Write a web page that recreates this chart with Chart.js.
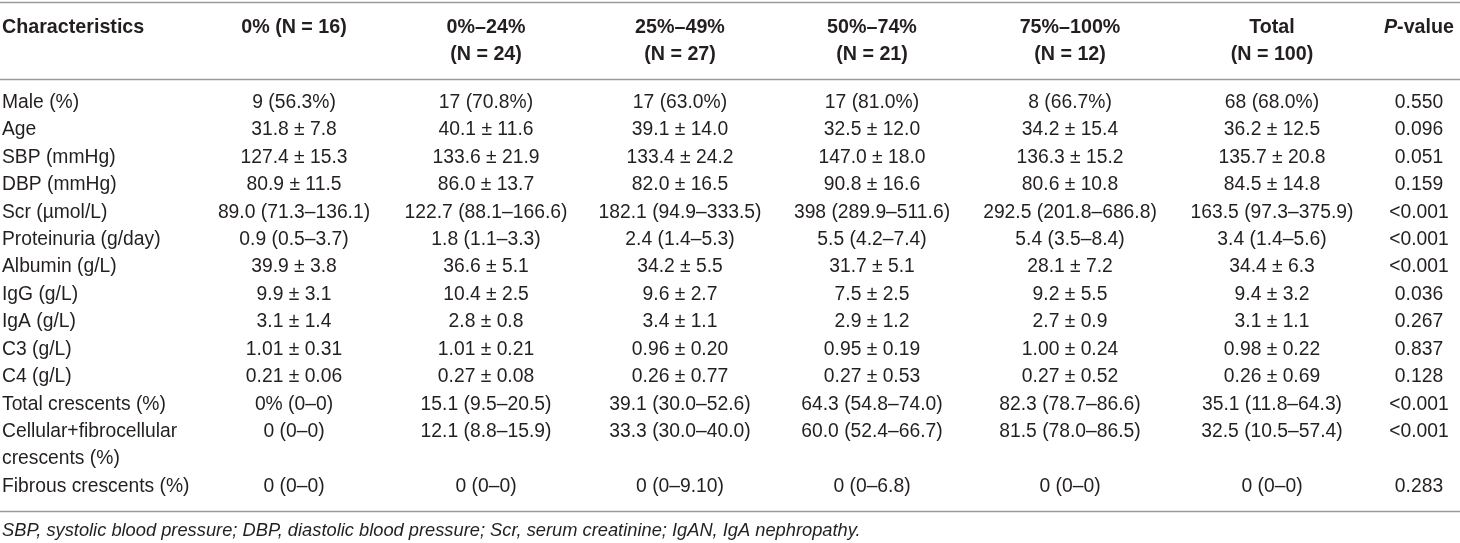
<!DOCTYPE html>
<html>
<head>
<meta charset="utf-8">
<script src="https://cdn.jsdelivr.net/npm/chart.js@4.4.1/dist/chart.umd.min.js"></script>
<style>
  html, body { margin: 0; padding: 0; background: #fff; }
  #wrap { position: relative; width: 1460px; height: 543px; }
</style>
</head>
<body>
<div id="wrap"><canvas id="tbl"></canvas></div>
<script>
// ── Table content ─────────────────────────────────────────────
const HEADERS = ['Characteristics', '0% (N = 16)', '0%–24%\n(N = 24)', '25%–49%\n(N = 27)',
                 '50%–74%\n(N = 21)', '75%–100%\n(N = 12)', 'Total\n(N = 100)', 'P-value'];

const ROW_LABELS = ['Male (%)', 'Age', 'SBP (mmHg)', 'DBP (mmHg)', 'Scr (µmol/L)', 'Proteinuria (g/day)',
                    'Albumin (g/L)', 'IgG (g/L)', 'IgA (g/L)', 'C3 (g/L)', 'C4 (g/L)', 'Total crescents (%)',
                    'Cellular+fibrocellular\ncrescents (%)', 'Fibrous crescents (%)'];

const GROUP_0   = ['9 (56.3%)', '31.8 ± 7.8', '127.4 ± 15.3', '80.9 ± 11.5', '89.0 (71.3–136.1)', '0.9 (0.5–3.7)',
                   '39.9 ± 3.8', '9.9 ± 3.1', '3.1 ± 1.4', '1.01 ± 0.31', '0.21 ± 0.06', '0% (0–0)', '0 (0–0)', '0 (0–0)'];
const GROUP_1   = ['17 (70.8%)', '40.1 ± 11.6', '133.6 ± 21.9', '86.0 ± 13.7', '122.7 (88.1–166.6)', '1.8 (1.1–3.3)',
                   '36.6 ± 5.1', '10.4 ± 2.5', '2.8 ± 0.8', '1.01 ± 0.21', '0.27 ± 0.08', '15.1 (9.5–20.5)', '12.1 (8.8–15.9)', '0 (0–0)'];
const GROUP_25  = ['17 (63.0%)', '39.1 ± 14.0', '133.4 ± 24.2', '82.0 ± 16.5', '182.1 (94.9–333.5)', '2.4 (1.4–5.3)',
                   '34.2 ± 5.5', '9.6 ± 2.7', '3.4 ± 1.1', '0.96 ± 0.20', '0.26 ± 0.77', '39.1 (30.0–52.6)', '33.3 (30.0–40.0)', '0 (0–9.10)'];
const GROUP_50  = ['17 (81.0%)', '32.5 ± 12.0', '147.0 ± 18.0', '90.8 ± 16.6', '398 (289.9–511.6)', '5.5 (4.2–7.4)',
                   '31.7 ± 5.1', '7.5 ± 2.5', '2.9 ± 1.2', '0.95 ± 0.19', '0.27 ± 0.53', '64.3 (54.8–74.0)', '60.0 (52.4–66.7)', '0 (0–6.8)'];
const GROUP_75  = ['8 (66.7%)', '34.2 ± 15.4', '136.3 ± 15.2', '80.6 ± 10.8', '292.5 (201.8–686.8)', '5.4 (3.5–8.4)',
                   '28.1 ± 7.2', '9.2 ± 5.5', '2.7 ± 0.9', '1.00 ± 0.24', '0.27 ± 0.52', '82.3 (78.7–86.6)', '81.5 (78.0–86.5)', '0 (0–0)'];
const TOTAL     = ['68 (68.0%)', '36.2 ± 12.5', '135.7 ± 20.8', '84.5 ± 14.8', '163.5 (97.3–375.9)', '3.4 (1.4–5.6)',
                   '34.4 ± 6.3', '9.4 ± 3.2', '3.1 ± 1.1', '0.98 ± 0.22', '0.26 ± 0.69', '35.1 (11.8–64.3)', '32.5 (10.5–57.4)', '0 (0–0)'];
const P_VALUES  = ['0.550', '0.096', '0.051', '0.159', '<0.001', '<0.001', '<0.001', '0.036', '0.267', '0.837',
                   '0.128', '<0.001', '<0.001', '0.283'];

const FOOTNOTE = 'SBP, systolic blood pressure; DBP, diastolic blood pressure; Scr, serum creatinine; IgAN, IgA nephropathy.';

const COLUMNS = [ROW_LABELS, GROUP_0, GROUP_1, GROUP_25, GROUP_50, GROUP_75, TOTAL, P_VALUES];

// ── Layout (x in column units of the x scale, y in text lines) ─
const COL_X     = [2, 294, 486, 680, 872, 1070, 1272, 1419];
const HEAD_Y    = [-2.75, -1.76];
const RULE_Y    = [-3.68, -0.87, 14.9];
const FOOT_Y    = 15.62;
const FONT      = '"Liberation Sans", Arial, sans-serif';
const INK       = '#231f20';
const BODY_PX   = 19.3;
const HEAD_PX   = 19.7;
const FOOT_PX   = 18.3;

// each row starts on the line after the previous row's last line
const ROW_LINE = [];
ROW_LABELS.reduce((line, lbl, i) => { ROW_LINE[i] = line; return line + lbl.split('\n').length; }, 0);

const datasets = COLUMNS.map((col, c) => ({
    label: c === 0 ? 'Characteristics' : HEADERS[c],
    data: col.map((_, r) => ({ x: COL_X[c], y: ROW_LINE[r] })),
    pointRadius: 0,
    pointHoverRadius: 0,
    showLine: false,
}));

// ── Text-cell painter ─────────────────────────────────────────
const tablePainter = {
    id: 'tablePainter',
    afterDraw(chart) {
        const { ctx, scales: { x, y } } = chart;
        const left = 0, right = chart.width;
        ctx.save();
        ctx.textBaseline = 'middle';
        ctx.fillStyle = INK;

        // rules
        ctx.strokeStyle = '#9a9a9a';
        ctx.lineWidth = 1.5;
        RULE_Y.forEach(v => {
            const py = Math.round(y.getPixelForValue(v)) + 0.5;
            ctx.beginPath(); ctx.moveTo(left, py); ctx.lineTo(right, py); ctx.stroke();
        });

        // header
        const bold = `bold ${HEAD_PX}px ${FONT}`;
        const boldIt = `italic bold ${HEAD_PX}px ${FONT}`;
        ctx.font = bold;
        HEADERS.forEach((h, c) => {
            const px = x.getPixelForValue(COL_X[c]);
            h.split('\n').forEach((ln, k) => {
                const py = y.getPixelForValue(HEAD_Y[k]);
                if (c === 0) { ctx.textAlign = 'left'; ctx.fillText(ln, px, py); return; }
                if (ln === 'P-value') {
                    ctx.font = boldIt;
                    const wP = ctx.measureText('P').width;
                    ctx.font = bold;
                    const wR = ctx.measureText('-value').width;
                    const x0 = px - (wP + wR) / 2;
                    ctx.textAlign = 'left';
                    ctx.font = boldIt;
                    ctx.fillText('P', x0, py);
                    ctx.font = bold;
                    ctx.fillText('-value', x0 + wP, py);
                    return;
                }
                ctx.textAlign = 'center';
                ctx.fillText(ln, px, py);
            });
        });

        // body cells, placed at the dataset's point elements
        ctx.font = `${BODY_PX}px ${FONT}`;
        const step = y.getPixelForValue(1) - y.getPixelForValue(0);
        chart.data.datasets.forEach((ds, c) => {
            const meta = chart.getDatasetMeta(c);
            ctx.textAlign = c === 0 ? 'left' : 'center';
            meta.data.forEach((pt, r) => {
                COLUMNS[c][r].split('\n').forEach((ln, k) => ctx.fillText(ln, pt.x, pt.y + k * step));
            });
        });

        // footnote
        ctx.font = `italic ${FOOT_PX}px ${FONT}`;
        ctx.textAlign = 'left';
        ctx.fillText(FOOTNOTE, x.getPixelForValue(COL_X[0]), y.getPixelForValue(FOOT_Y));
        ctx.restore();
    },
};

new Chart(document.getElementById('tbl'), {
    type: 'scatter',
    data: { datasets },
    options: {
        responsive: true, maintainAspectRatio: false, animation: false,
        layout: { padding: 0 },
        events: [],
        plugins: { legend: { display: false }, tooltip: { enabled: false } },
        scales: {
            x: { type: 'linear', display: false, min: 0, max: 1460 },
            y: { type: 'linear', display: false, reverse: true, min: -3.74, max: 16.06 },
        },
    },
    plugins: [tablePainter],
});
</script>
</body>
</html>
